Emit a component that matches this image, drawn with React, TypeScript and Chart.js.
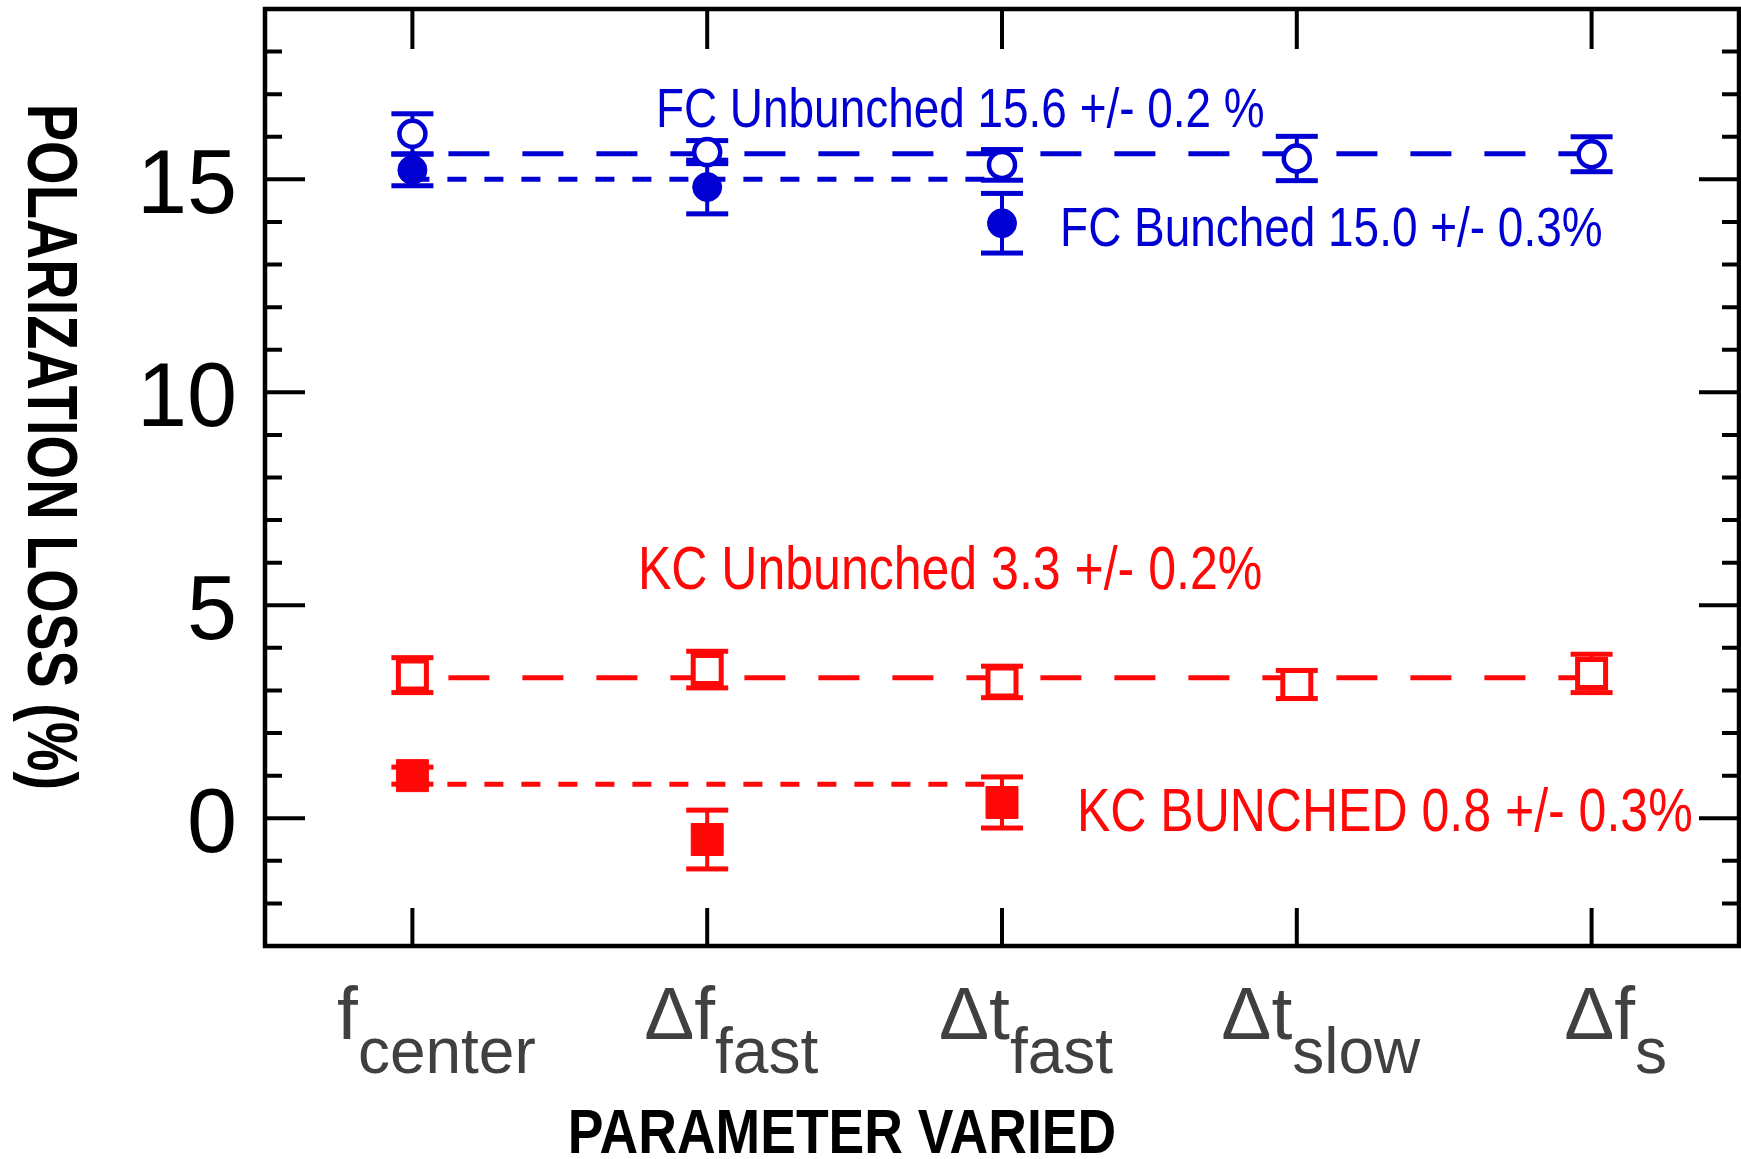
import React, { useEffect, useRef } from 'react';
import { Chart, registerables } from 'chart.js';

Chart.register(...registerables);

// ---- data ----
const categoryPositions = [0, 1, 2, 3, 4];
const categoryMain = ['f', 'Δf', 'Δt', 'Δt', 'Δf'];
const categorySub = ['center', 'fast', 'fast', 'slow', 's'];

const fcUnbunched = [16.07, 15.64, 15.34, 15.49, 15.59];
const fcUnbunchedErr = [0.47, 0.27, 0.36, 0.52, 0.41];
const fcBunched = [15.22, 14.82, 13.97];
const fcBunchedErr = [0.37, 0.63, 0.7];
const kcUnbunched = [3.36, 3.49, 3.2, 3.14, 3.4];
const kcUnbunchedErr = [0.41, 0.43, 0.37, 0.33, 0.45];
const kcBunched = [1.0, -0.5, 0.37];
const kcBunchedErr = [0.2, 0.69, 0.6];

const fcUnbunchedMean = 15.6;
const fcBunchedMean = 15.0;
const kcUnbunchedMean = 3.3;
const kcBunchedMean = 0.8;

const yMajorTicks = [0, 5, 10, 15];
const yRange = [-3, 19];
const xRange = [-0.5, 4.5];

const annotationTexts = [
  'FC Unbunched 15.6 +/- 0.2 %',
  'FC Bunched 15.0 +/- 0.3%',
  'KC Unbunched 3.3 +/- 0.2%',
  'KC BUNCHED 0.8 +/- 0.3%',
];
const annotationAnchors = [
  [0.826, 16.22],
  [2.197, 13.43],
  [0.765, 5.376],
  [2.254, -0.305],
];

const yTitle = 'POLARIZATION LOSS (%)';
const xTitle = 'PARAMETER VARIED';

// ---- styles ----
const BLUE = 'rgb(0,0,210)';
const RED = 'rgb(255,8,8)';
const FONT = '"Liberation Sans", Arial, Helvetica, sans-serif';

const toPoints = (vals: number[]) => vals.map((v, i) => ({ x: categoryPositions[i], y: v }));
const meanLine = (mean: number, n: number) => [
  { x: categoryPositions[0], y: mean },
  { x: categoryPositions[n - 1], y: mean },
];

function narrowText(ctx: CanvasRenderingContext2D, text: string, x: number, y: number, font: string, color: string, sx: number) {
  ctx.save();
  ctx.font = font;
  ctx.fillStyle = color;
  ctx.textAlign = 'left';
  ctx.textBaseline = 'alphabetic';
  ctx.translate(x, y);
  ctx.scale(sx, 1);
  ctx.fillText(text, 0, 0);
  ctx.restore();
}

const decorPlugin = {
  id: 'decor',
  beforeDatasetDraw(chart: any, args: any) {
    const ds: any = chart.data.datasets[args.index];
    if (!ds.errors) return;
    const ctx = chart.ctx as CanvasRenderingContext2D;
    const xs = chart.scales.x;
    const ys = chart.scales.y;
    ctx.save();
    ctx.strokeStyle = ds.borderColor;
    ctx.fillStyle = ds.borderColor;
    ctx.lineWidth = 4;
    ds.data.forEach((p: any, i: number) => {
      const e = ds.errors[i];
      const x = xs.getPixelForValue(p.x);
      const yt = ys.getPixelForValue(p.y + e);
      const yb = ys.getPixelForValue(p.y - e);
      ctx.beginPath();
      ctx.moveTo(x, yt);
      ctx.lineTo(x, yb);
      ctx.stroke();
      ctx.fillRect(x - 21, yt - 2.5, 42, 5);
      ctx.fillRect(x - 21, yb - 2.5, 42, 5);
    });
    ctx.restore();
  },
  afterDraw(chart: any) {
    const ctx = chart.ctx as CanvasRenderingContext2D;
    const { left, right, top, bottom } = chart.chartArea;
    const xs = chart.scales.x;
    const ys = chart.scales.y;
    ctx.save();
    // frame
    ctx.strokeStyle = '#000';
    ctx.lineWidth = 4.5;
    ctx.strokeRect(left, top, right - left, bottom - top);
    // y ticks (inward, both sides)
    ctx.lineWidth = 4;
    for (let v = yRange[0] + 1; v < yRange[1]; v++) {
      const y = ys.getPixelForValue(v);
      const len = yMajorTicks.includes(v) ? 40 : 17;
      ctx.beginPath();
      ctx.moveTo(left, y);
      ctx.lineTo(left + len, y);
      ctx.moveTo(right, y);
      ctx.lineTo(right - len, y);
      ctx.stroke();
    }
    // x ticks
    categoryPositions.forEach((c) => {
      const x = xs.getPixelForValue(c);
      ctx.beginPath();
      ctx.moveTo(x, top);
      ctx.lineTo(x, top + 40);
      ctx.moveTo(x, bottom);
      ctx.lineTo(x, bottom - 38);
      ctx.stroke();
    });
    // y tick labels
    ctx.fillStyle = '#000';
    ctx.font = `90px ${FONT}`;
    ctx.textAlign = 'right';
    ctx.textBaseline = 'alphabetic';
    yMajorTicks.forEach((v) => {
      const y = ys.getPixelForValue(v);
      ctx.fillText(String(v), left - 28, y + 34);
    });
    // x category labels with subscripts
    ctx.fillStyle = 'rgb(64,64,64)';
    ctx.textAlign = 'left';
    categoryPositions.forEach((c, i) => {
      const x = xs.getPixelForValue(c);
      ctx.font = `75px ${FONT}`;
      const wm = ctx.measureText(categoryMain[i]).width;
      ctx.font = `64px ${FONT}`;
      const wsub = ctx.measureText(categorySub[i]).width;
      const start = x + 24 - (wm + wsub) / 2;
      ctx.font = `75px ${FONT}`;
      ctx.fillText(categoryMain[i], start, bottom + 93);
      ctx.font = `64px ${FONT}`;
      ctx.fillText(categorySub[i], start + wm, bottom + 127);
    });
    // x title
    const sxT = 0.85;
    ctx.font = `bold 63px ${FONT}`;
    const wx = ctx.measureText(xTitle).width * sxT;
    narrowText(ctx, xTitle, 842 - wx / 2, bottom + 207, `bold 63px ${FONT}`, '#000', sxT);
    // y title
    ctx.save();
    ctx.translate(28, 447);
    ctx.rotate(Math.PI / 2);
    ctx.scale(0.8, 1);
    ctx.font = `bold 70px ${FONT}`;
    ctx.fillStyle = '#000';
    ctx.textAlign = 'center';
    ctx.fillText(yTitle, 0, 0);
    ctx.restore();
    // annotations
    const colors = [BLUE, BLUE, RED, RED];
    const sizes = [56, 56, 61, 61];
    annotationTexts.forEach((t, i) => {
      const [ax, ay] = annotationAnchors[i];
      narrowText(ctx, t, xs.getPixelForValue(ax), ys.getPixelForValue(ay), `${sizes[i]}px ${FONT}`, colors[i], 0.82);
    });
    ctx.restore();
  },
};

export default function App() {
  const ref = useRef<HTMLCanvasElement | null>(null);
  useEffect(() => {
    if (!ref.current) return;
    const longDash = { borderDash: [41, 33], borderDashOffset: 38 };
    const shortDash = { borderDash: [19, 18], borderDashOffset: 2 };
    const chart = new Chart(ref.current, {
      type: 'scatter',
      data: {
        datasets: [
          {
            label: 'FC Unbunched',
            data: toPoints(fcUnbunched),
            errors: fcUnbunchedErr,
            pointStyle: 'circle',
            pointRadius: 13,
            pointBorderWidth: 4.5,
            pointBackgroundColor: '#fff',
            pointBorderColor: BLUE,
            borderColor: BLUE,
            backgroundColor: '#fff',
            showLine: false,
            clip: false,
            order: 1,
          } as any,
          {
            label: 'FC Bunched',
            data: toPoints(fcBunched),
            errors: fcBunchedErr,
            pointStyle: 'circle',
            pointRadius: 14.5,
            pointBorderWidth: 1,
            pointBackgroundColor: BLUE,
            pointBorderColor: BLUE,
            borderColor: BLUE,
            backgroundColor: BLUE,
            showLine: false,
            clip: false,
            order: 1,
          } as any,
          {
            label: 'KC Unbunched',
            data: toPoints(kcUnbunched),
            errors: kcUnbunchedErr,
            pointStyle: 'rect',
            pointRadius: 19.8,
            pointBorderWidth: 5,
            pointBackgroundColor: '#fff',
            pointBorderColor: RED,
            borderColor: RED,
            backgroundColor: '#fff',
            showLine: false,
            clip: false,
            order: 1,
          } as any,
          {
            label: 'KC Bunched',
            data: toPoints(kcBunched),
            errors: kcBunchedErr,
            pointStyle: 'rect',
            pointRadius: 22.6,
            pointBorderWidth: 1,
            pointBackgroundColor: RED,
            pointBorderColor: RED,
            borderColor: RED,
            backgroundColor: RED,
            showLine: false,
            clip: false,
            order: 1,
          } as any,
          {
            label: 'FC Unbunched mean',
            type: 'line',
            data: meanLine(fcUnbunchedMean, fcUnbunched.length),
            borderColor: BLUE,
            borderWidth: 5,
            pointRadius: 0,
            showLine: true,
            ...longDash,
            order: 2,
          } as any,
          {
            label: 'FC Bunched mean',
            type: 'line',
            data: meanLine(fcBunchedMean, fcBunched.length),
            borderColor: BLUE,
            borderWidth: 5,
            pointRadius: 0,
            showLine: true,
            ...shortDash,
            order: 2,
          } as any,
          {
            label: 'KC Unbunched mean',
            type: 'line',
            data: meanLine(kcUnbunchedMean, kcUnbunched.length),
            borderColor: RED,
            borderWidth: 5,
            pointRadius: 0,
            showLine: true,
            ...longDash,
            order: 2,
          } as any,
          {
            label: 'KC Bunched mean',
            type: 'line',
            data: meanLine(kcBunchedMean, kcBunched.length),
            borderColor: RED,
            borderWidth: 5,
            pointRadius: 0,
            showLine: true,
            ...shortDash,
            order: 2,
          } as any,
        ],
      },
      options: {
        animation: false,
        responsive: false,
        maintainAspectRatio: false,
        events: [],
        layout: { autoPadding: false, padding: { left: 265, top: 9, right: 2, bottom: 213 } },
        plugins: {
          legend: { display: false },
          tooltip: { enabled: false },
          title: { display: false },
        },
        scales: {
          x: { type: 'linear', min: xRange[0], max: xRange[1], display: false },
          y: { type: 'linear', min: yRange[0], max: yRange[1], display: false },
        },
      },
      plugins: [decorPlugin],
    } as any);
    return () => chart.destroy();
  }, []);
  return (
    <div style={{ position: 'absolute', left: 0, top: 0, width: 1741, height: 1159, background: '#fff' }}>
      <canvas ref={ref} width={1741} height={1159} style={{ display: 'block', width: 1741, height: 1159 }} />
    </div>
  );
}
